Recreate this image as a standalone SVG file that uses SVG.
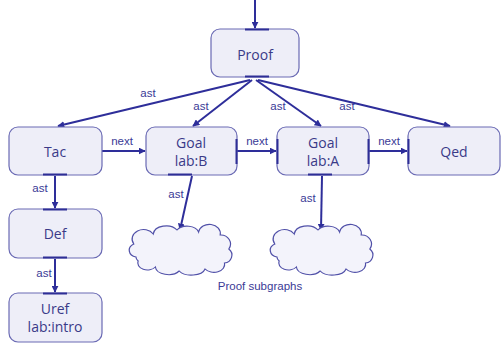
<svg xmlns="http://www.w3.org/2000/svg" width="502" height="348" viewBox="0 0 502 348">
<style>
.box{fill:#eeeef8;stroke:#6a6ab4;stroke-width:1.2}
.port{stroke:#2e2e96;stroke-width:2}
.t{font-family:"Open Sans","Liberation Sans",sans-serif;font-size:14px;font-weight:500;fill:#3a3a88;text-anchor:middle}
.lbl{font-family:"Liberation Sans",Arial,sans-serif;font-size:11.5px;fill:#3a3a96;text-anchor:middle}
.e{stroke:#2e2e9a;stroke-width:2;fill:none;marker-end:url(#ah)}
.cloud{fill:#f3f3fb;stroke:#5050a8;stroke-width:1.1}
</style>
<defs>
<marker id="ah" viewBox="0 0 10 10" refX="9" refY="5" markerWidth="3.5" markerHeight="3.5" orient="auto" markerUnits="strokeWidth">
<path d="M0,0 L10,5 L0,10 Z" fill="#2e2e9a"/>
</marker>
<path id="cl" d="M12,30 a8,7 0 0 1 -2,-13 a10,9 0 0 1 18,-10 a12,9 0 0 1 22,-4 a11,8 0 0 1 20,2 a10,9 0 0 1 20,3 a9,9 0 0 1 8,14 a8,8 0 0 1 -4,14 a10,8 0 0 1 -18,6 a13,8 0 0 1 -24,2 a12,8 0 0 1 -22,-4 a9,7 0 0 1 -16,-6 a7,6 0 0 1 -2,-4 Z"/>
</defs>
<g id="edges">
<line class="e" x1="255" y1="0" x2="255" y2="28"/>
<line class="e" x1="250" y1="80" x2="58" y2="126"/>
<line class="e" x1="252" y1="80" x2="193" y2="126"/>
<line class="e" x1="256" y1="80" x2="321" y2="126"/>
<line class="e" x1="258" y1="80" x2="450" y2="126"/>
<line class="e" x1="102" y1="151" x2="145" y2="151"/>
<line class="e" x1="237" y1="151" x2="276" y2="151"/>
<line class="e" x1="369" y1="151" x2="407" y2="151"/>
<line class="e" x1="55" y1="176" x2="55" y2="208"/>
<line class="e" x1="55" y1="259" x2="55" y2="292"/>
<line class="e" x1="192" y1="176" x2="180" y2="230"/>
<line class="e" x1="322" y1="176" x2="321" y2="230"/>
<text class="lbl" x="148" y="97">ast</text>
<text class="lbl" x="201" y="110">ast</text>
<text class="lbl" x="278" y="110">ast</text>
<text class="lbl" x="347" y="110">ast</text>
<text class="lbl" x="122" y="145">next</text>
<text class="lbl" x="257" y="145">next</text>
<text class="lbl" x="389" y="145">next</text>
<text class="lbl" x="40" y="192">ast</text>
<text class="lbl" x="44" y="277">ast</text>
<text class="lbl" x="176" y="198">ast</text>
<text class="lbl" x="308" y="202">ast</text>
</g>
<g id="proof">
<rect class="box" x="211" y="29" width="88" height="48" rx="9"/>
<line class="port" x1="245" y1="29.5" x2="269" y2="29.5"/>
<line class="port" x1="245" y1="76.5" x2="269" y2="76.5"/>
<text class="t" x="255" y="60">Proof</text>
</g>
<g id="tac">
<rect class="box" x="9" y="127" width="93" height="48" rx="9"/>
<line class="port" x1="43" y1="174.5" x2="67" y2="174.5"/>
<text class="t" x="55" y="157">Tac</text>
</g>
<g id="goalB">
<rect class="box" x="146" y="127" width="91" height="48" rx="9"/>
<line class="port" x1="168" y1="174.5" x2="192" y2="174.5"/>
<line class="port" x1="236.5" y1="139" x2="236.5" y2="164"/>
<text class="t" x="191" y="148">Goal</text>
<text class="t" x="191" y="166">lab:B</text>
</g>
<g id="goalA">
<rect class="box" x="277" y="127" width="92" height="48" rx="9"/>
<line class="port" x1="277.5" y1="139" x2="277.5" y2="164"/>
<line class="port" x1="368.5" y1="139" x2="368.5" y2="164"/>
<line class="port" x1="308" y1="174.5" x2="332" y2="174.5"/>
<text class="t" x="323" y="148">Goal</text>
<text class="t" x="323" y="166">lab:A</text>
</g>
<g id="qed">
<rect class="box" x="408" y="127" width="92" height="48" rx="9"/>
<line class="port" x1="408.5" y1="139" x2="408.5" y2="164"/>
<text class="t" x="454" y="157">Qed</text>
</g>
<g id="def">
<rect class="box" x="9" y="209" width="93" height="49" rx="9"/>
<line class="port" x1="43" y1="209.5" x2="67" y2="209.5"/>
<line class="port" x1="43" y1="257.5" x2="67" y2="257.5"/>
<text class="t" x="55" y="239">Def</text>
</g>
<g id="uref">
<rect class="box" x="9" y="293" width="93" height="49" rx="9"/>
<line class="port" x1="43" y1="293.5" x2="67" y2="293.5"/>
<text class="t" x="55" y="314">Uref</text>
<text class="t" x="55" y="332">lab:intro</text>
</g>
<g id="cloud1">
<use href="#cl" class="cloud" transform="translate(123,227) scale(1.08,1)"/>
</g>
<g id="cloud2">
<use href="#cl" class="cloud" transform="translate(264,227) scale(1.08,1)"/>
</g>
<g id="caption">
<text class="lbl" x="260" y="290">Proof subgraphs</text>
</g>
</svg>
